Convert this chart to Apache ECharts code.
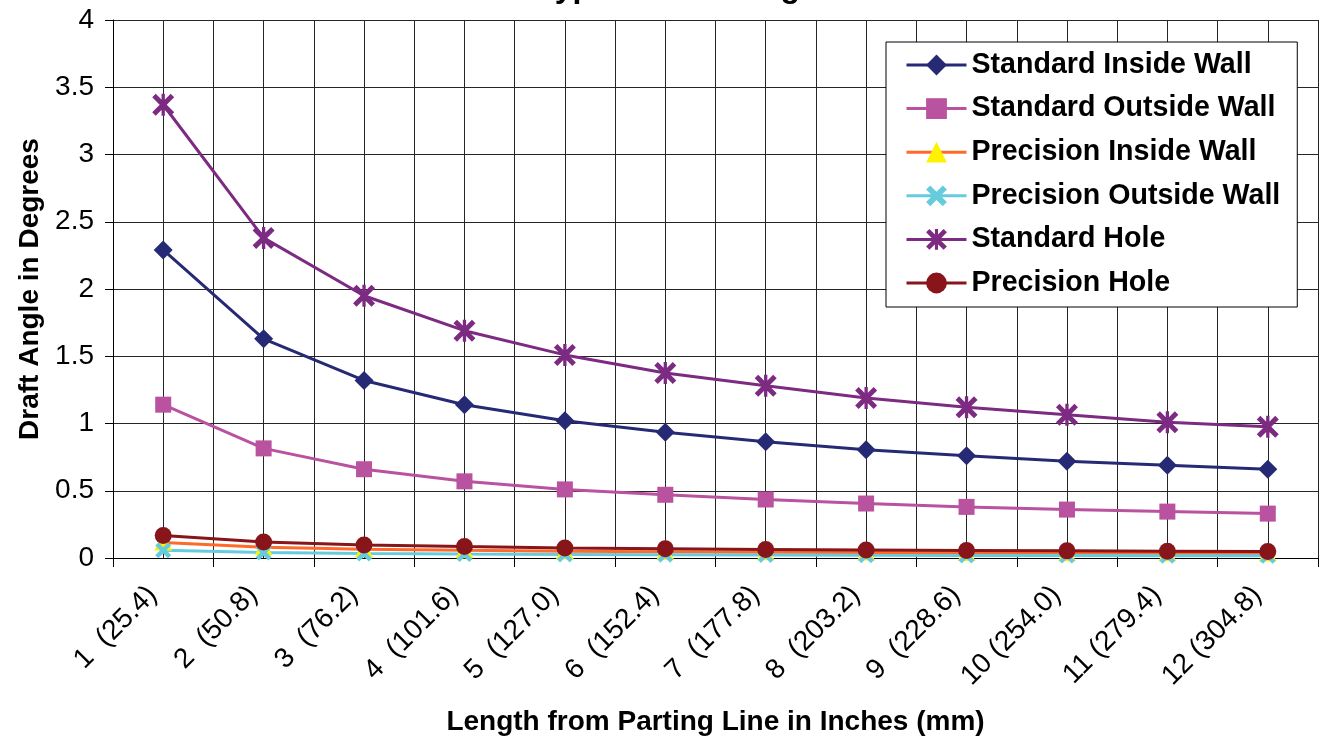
<!DOCTYPE html>
<html>
<head>
<meta charset="utf-8">
<script src="https://cdn.jsdelivr.net/npm/echarts@6/dist/echarts.min.js"></script>
<style>
html,body{margin:0;padding:0;background:#fff;overflow:hidden;}
#chart{width:1322px;height:740px;}
</style>
</head>
<body>
<div id="chart"></div>
<script>
var inches = ["1", "2", "3", "4", "5", "6", "7", "8", "9", "10", "11", "12"];
var millimetres = ["25.4", "50.8", "76.2", "101.6", "127.0", "152.4", "177.8", "203.2", "228.6", "254.0", "279.4", "304.8"];
var yTicks = ["0", "0.5", "1", "1.5", "2", "2.5", "3", "3.5", "4"];

var standardInsideWall  = [2.29, 1.63, 1.32, 1.14, 1.02, 0.935, 0.865, 0.805, 0.76, 0.72, 0.69, 0.66];
var standardOutsideWall = [1.14, 0.815, 0.66, 0.57, 0.51, 0.47, 0.435, 0.405, 0.38, 0.36, 0.345, 0.33];
var precisionInsideWall = [0.115, 0.08, 0.065, 0.057, 0.051, 0.047, 0.043, 0.04, 0.038, 0.036, 0.035, 0.033];
var precisionOutsideWall = [0.057, 0.041, 0.033, 0.029, 0.026, 0.024, 0.022, 0.02, 0.019, 0.018, 0.017, 0.016];
var standardHole  = [3.37, 2.38, 1.95, 1.69, 1.51, 1.375, 1.28, 1.19, 1.12, 1.065, 1.01, 0.975];
var precisionHole = [0.168, 0.119, 0.097, 0.085, 0.075, 0.069, 0.064, 0.06, 0.056, 0.053, 0.051, 0.049];

var categories = inches.map(function (v, i) {
  return v + (v.length === 1 ? '  ' : ' ') + '(' + millimetres[i] + ')';
});

var FONT = '"Liberation Sans", Arial, Helvetica, sans-serif';
var GRIDC = '#262626';

var xSym = 'path://M0,2L2,0L5,3L8,0L10,2L7,5L10,8L8,10L5,7L2,10L0,8L3,5Z';
var starSym = 'path://M0,1.6L1.6,0L5,3.4L8.4,0L10,1.6L6.6,5L10,8.4L8.4,10L5,6.6L1.6,10L0,8.4L3.4,5Z M4.25,0L5.75,0L5.75,10L4.25,10Z';

function mk(name, data, lineColor, markColor, symbol, size) {
  return {
    name: name,
    type: 'line',
    data: data,
    xAxisIndex: 0,
    yAxisIndex: 0,
    symbol: symbol,
    symbolSize: size,
    showAllSymbol: true,
    lineStyle: { color: lineColor, width: 3 },
    itemStyle: { color: markColor, borderWidth: 0 },
    emphasis: { disabled: true },
    animation: false
  };
}

var chart = echarts.init(document.getElementById('chart'), null, { renderer: 'canvas' });
chart.setOption({
  backgroundColor: '#ffffff',
  animation: false,
  textStyle: { fontFamily: FONT },
  title: {
    text: 'Typical Draft Angles',
    left: 686,
    textAlign: 'center',
    top: -33,
    textStyle: { fontFamily: FONT, fontSize: 32, fontWeight: 'bold', color: '#000' }
  },
  grid: { left: 113, right: 4, top: 20, bottom: 182, containLabel: false, outerBoundsMode: 'none' },
  legend: {
    orient: 'vertical',
    left: 886,
    top: 42,
    padding: [8, 17, 9, 19],
    itemGap: 13.6,
    itemWidth: 60,
    itemHeight: 26,
    backgroundColor: '#ffffff',
    borderColor: '#000',
    borderWidth: 1,
    lineStyle: { width: 3 },
    textStyle: { fontFamily: FONT, fontSize: 28.6, fontWeight: 'bold', color: '#000', lineHeight: 30 },
    data: ['Standard Inside Wall', 'Standard Outside Wall', 'Precision Inside Wall',
           'Precision Outside Wall', 'Standard Hole', 'Precision Hole']
  },
  xAxis: [
    {
      type: 'category',
      data: categories,
      boundaryGap: true,
      name: 'Length from Parting Line in Inches (mm)',
      nameLocation: 'middle',
      nameGap: 150,
      nameTextStyle: { fontFamily: FONT, fontSize: 28, fontWeight: 'bold', color: '#000' },
      axisLine: { show: true, lineStyle: { color: '#000', width: 1 } },
      axisTick: { show: true, length: 9, inside: false, lineStyle: { color: '#000' } },
      axisLabel: { rotate: 45, interval: 0, fontSize: 28, color: '#000', margin: 22, padding: [0, 15, 0, 0], fontFamily: FONT },
      splitLine: { show: false }
    },
    {
      type: 'value',
      min: 0,
      max: 24,
      interval: 1,
      position: 'top',
      axisLine: { show: false },
      axisTick: { show: false },
      axisLabel: { show: false },
      splitLine: { show: true, lineStyle: { color: GRIDC, width: 1 } }
    }
  ],
  yAxis: {
    type: 'value',
    min: 0,
    max: 4,
    interval: 0.5,
    name: 'Draft Angle in Degrees',
    nameLocation: 'middle',
    nameRotate: 90,
    nameGap: 66,
    nameTextStyle: { fontFamily: FONT, fontSize: 28, fontWeight: 'bold', color: '#000' },
    axisLine: { show: true, lineStyle: { color: '#000', width: 1 } },
    axisTick: { show: true, length: 8, lineStyle: { color: '#000' } },
    axisLabel: {
      fontSize: 28, color: '#000', margin: 19, fontFamily: FONT,
      formatter: function (v) { return yTicks[Math.round(v / 0.5)]; }
    },
    splitLine: { show: true, lineStyle: { color: GRIDC, width: 1 } }
  },
  series: [
    mk('Standard Inside Wall', standardInsideWall, '#262a75', '#262a75', 'diamond', [19, 19]),
    mk('Standard Outside Wall', standardOutsideWall, '#b9529f', '#b9529f', 'rect', [16, 16]),
    mk('Precision Inside Wall', precisionInsideWall, '#ff6a2a', '#fff200', 'triangle', [18, 16]),
    mk('Precision Outside Wall', precisionOutsideWall, '#66ccdd', '#66ccdd', xSym, [16, 16]),
    mk('Standard Hole', standardHole, '#7d2a82', '#7d2a82', starSym, [22, 22]),
    mk('Precision Hole', precisionHole, '#871519', '#871519', 'circle', [17, 17])
  ]
});
</script>
</body>
</html>
